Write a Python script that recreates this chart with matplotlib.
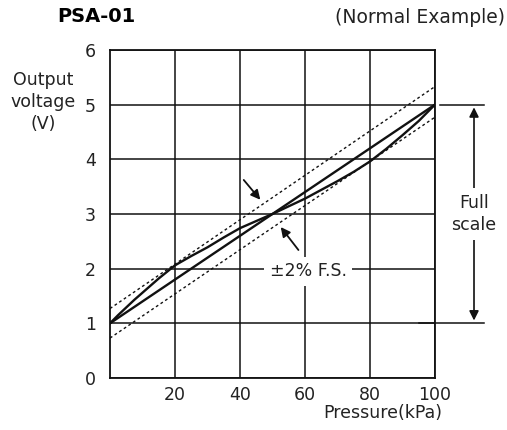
import matplotlib.pyplot as plt
import numpy as np

pressure = [0, 2.5, 5, 7.5, 10, 15, 20, 25, 30, 35, 40, 45, 50,
            55, 60, 65, 70, 75, 80, 85, 90, 95, 100]
curve_v = [1.0, 1.15, 1.29, 1.43, 1.56, 1.82, 2.06, 2.23, 2.39, 2.57, 2.74, 2.87, 3.0,
           3.14, 3.28, 3.44, 3.6, 3.77, 3.96, 4.19, 4.44, 4.70, 5.0]

# ideal straight line and the tolerance band
ideal_x = [0, 100]
ideal_v = [1.0, 5.0]
band_hi = [1.27, 5.33]
band_lo = [0.73, 4.77]

xticks = [20, 40, 60, 80, 100]
yticks = [0, 1, 2, 3, 4, 5, 6]

plt.rcParams['font.family'] = ['DejaVu Sans']
txt = '#222222'

fig = plt.figure(figsize=(5.07, 4.30), dpi=100)
ax = fig.add_axes([0.217, 0.121, 0.641, 0.763])

ax.set_xlim(0, 100)
ax.set_ylim(0, 6)
ax.set_xticks(xticks)
ax.set_yticks(yticks)
ax.tick_params(axis='y', length=0, labelsize=12.5, pad=10, colors=txt)
ax.tick_params(axis='x', length=0, labelsize=12.5, pad=6, colors=txt)
ax.grid(True, color='#111111', lw=1.1)
ax.set_axisbelow(True)
for s in ax.spines.values():
    s.set_linewidth(1.3)
    s.set_color('#111111')

ax.plot(pressure, curve_v, color='#111111', lw=1.7, solid_capstyle='round')
ax.plot(ideal_x, ideal_v, color='#111111', lw=1.7)
ax.plot(ideal_x, band_hi, color='#111111', lw=1.0, ls=(0, (2, 2)))
ax.plot(ideal_x, band_lo, color='#111111', lw=1.0, ls=(0, (2, 2)))

# arrows pointing at the band
arrow = dict(arrowstyle='-|>', color='#111111', lw=1.3, mutation_scale=14)
ax.annotate('', xy=(46.8, 3.22), xytext=(40.6, 3.66), arrowprops=arrow)
ax.annotate('', xy=(52.0, 2.80), xytext=(58.5, 2.30), arrowprops=arrow)
ax.text(61.0, 1.95, '±2% F.S.', fontsize=12.5, ha='center', va='center',
        color=txt, bbox=dict(fc='white', ec='none', pad=4))

# full scale dimension on the right
ax.plot([101.5, 115], [5, 5], color='#111111', lw=1.1, clip_on=False)
ax.plot([95, 115], [1, 1], color='#111111', lw=1.1, clip_on=False)
ax.annotate('', xy=(112, 5), xytext=(112, 1),
            arrowprops=dict(arrowstyle='<|-|>', color='#111111', lw=1.2,
                            mutation_scale=14), annotation_clip=False)
ax.text(112, 3.0, 'Full\nscale', fontsize=12.5, ha='center', va='center',
        color=txt, linespacing=1.3,
        bbox=dict(fc='white', ec='none', pad=4), clip_on=False)

fig.text(0.112, 0.962, 'PSA-01', fontsize=14, fontweight='bold', va='center')
fig.text(0.997, 0.96, '(Normal Example)', fontsize=13.5, ha='right', va='center',
         color=txt)
fig.text(0.086, 0.763, 'Output\nvoltage\n(V)', fontsize=12.5, ha='center', va='center',
         color=txt, linespacing=1.3)
ax.set_xlabel('Pressure(kPa)', fontsize=12.5, color=txt)
ax.xaxis.set_label_coords(1.022, -0.08)
ax.xaxis.label.set_ha('right')

fig.savefig('out.png', dpi=100)
